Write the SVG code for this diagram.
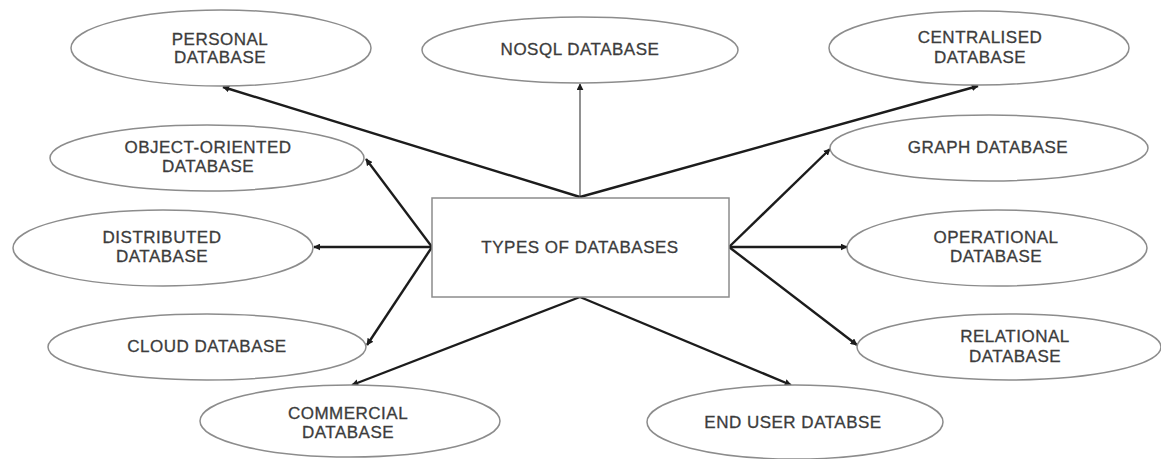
<svg xmlns="http://www.w3.org/2000/svg" width="1161" height="459" viewBox="0 0 1161 459">
  <style>
    .node ellipse { fill: #ffffff; stroke: #8c8c8c; stroke-width: 1.5; }
    .node rect { fill: #ffffff; stroke: #8c8c8c; stroke-width: 1.5; }
    .node text { font-family: "Liberation Sans", Arial, sans-serif; font-size: 17px; letter-spacing: 0.5px; fill: #3c3c3c; stroke: #3c3c3c; stroke-width: 0.3; text-anchor: middle; }
    .link { stroke: #1c1c1c; stroke-width: 2.4; fill: none; marker-end: url(#head); }
    .link.thin { stroke: #555555; stroke-width: 1.3; }
  </style>
  <defs>
    <marker id="head" viewBox="0 0 10 10" refX="9" refY="5" markerWidth="7" markerHeight="7" markerUnits="userSpaceOnUse" orient="auto">
      <path d="M0,0 L10,5 L0,10 z" fill="#1c1c1c"/>
    </marker>
  </defs>
  <rect width="1161" height="459" fill="#ffffff"/>

  <g id="connectors">
    <line class="link" x1="580" y1="197" x2="223" y2="87"/>
    <line class="link thin" x1="580" y1="197" x2="580" y2="84"/>
    <line class="link" x1="580" y1="197" x2="978" y2="86"/>
    <line class="link" x1="432" y1="247" x2="366" y2="159"/>
    <line class="link" x1="432" y1="247" x2="314" y2="247"/>
    <line class="link" x1="432" y1="247" x2="367" y2="345"/>
    <line class="link" x1="729" y1="247" x2="830" y2="149"/>
    <line class="link" x1="729" y1="247" x2="847" y2="247"/>
    <line class="link" x1="729" y1="247" x2="857" y2="345"/>
    <line class="link" x1="580" y1="297" x2="352" y2="385"/>
    <line class="link" x1="580" y1="297" x2="791" y2="385"/>
  </g>

  <g id="types-of-databases" class="node">
    <rect x="432" y="198" width="297" height="99"/>
    <text x="580" y="253">TYPES OF DATABASES</text>
  </g>

  <g id="personal-database" class="node">
    <ellipse cx="221" cy="48" rx="150" ry="38"/>
    <text x="220" y="45">PERSONAL</text>
    <text x="220" y="63">DATABASE</text>
  </g>

  <g id="nosql-database" class="node">
    <ellipse cx="580" cy="50" rx="158" ry="33"/>
    <text x="580" y="55">NOSQL DATABASE</text>
  </g>

  <g id="centralised-database" class="node">
    <ellipse cx="979" cy="48" rx="150" ry="37"/>
    <text x="980" y="43">CENTRALISED</text>
    <text x="980" y="63">DATABASE</text>
  </g>

  <g id="object-oriented-database" class="node">
    <ellipse cx="207" cy="158" rx="157" ry="33"/>
    <text x="208" y="153">OBJECT-ORIENTED</text>
    <text x="208" y="172">DATABASE</text>
  </g>

  <g id="graph-database" class="node">
    <ellipse cx="989" cy="148" rx="159" ry="33"/>
    <text x="988" y="153">GRAPH DATABASE</text>
  </g>

  <g id="distributed-database" class="node">
    <ellipse cx="163" cy="248" rx="150" ry="38"/>
    <text x="162" y="243">DISTRIBUTED</text>
    <text x="162" y="262">DATABASE</text>
  </g>

  <g id="operational-database" class="node">
    <ellipse cx="997" cy="248" rx="150" ry="38"/>
    <text x="996" y="243">OPERATIONAL</text>
    <text x="996" y="262">DATABASE</text>
  </g>

  <g id="cloud-database" class="node">
    <ellipse cx="207" cy="347" rx="159" ry="33"/>
    <text x="207" y="352">CLOUD DATABASE</text>
  </g>

  <g id="relational-database" class="node">
    <ellipse cx="1009" cy="347" rx="152" ry="33"/>
    <text x="1015" y="342">RELATIONAL</text>
    <text x="1015" y="362">DATABASE</text>
  </g>

  <g id="commercial-database" class="node">
    <ellipse cx="350" cy="421" rx="150" ry="36"/>
    <text x="348" y="419">COMMERCIAL</text>
    <text x="348" y="438">DATABASE</text>
  </g>

  <g id="end-user-database" class="node">
    <ellipse cx="795" cy="422" rx="148" ry="37"/>
    <text x="793" y="428">END USER DATABSE</text>
  </g>
</svg>
